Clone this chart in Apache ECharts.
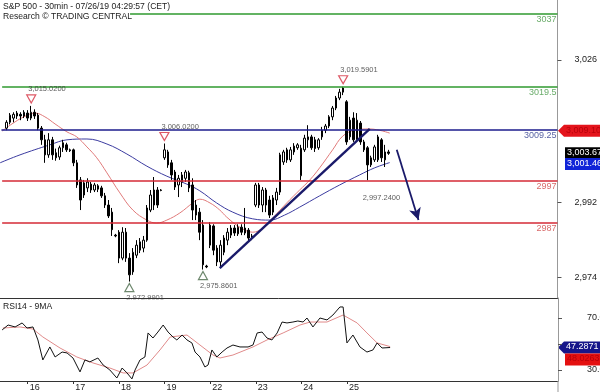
<!DOCTYPE html>
<html><head><meta charset="utf-8">
<script src="https://cdn.jsdelivr.net/npm/echarts@6/dist/echarts.min.js"></script>
<style>html,body{margin:0;padding:0;background:#fff}#c{width:600px;height:392px}</style>
</head><body><div id="c"></div>
<script>
// ---- data ----
const candleOpen  = [3009.7,3011.1,3012.1,3012.6,3013.0,3012.6,3013.3,3012.1,3013.5,3012.8,3009.7,3006.9,3003.3,3006.9,3003.8,3002.8,3005.0,3005.7,3004.5,3004.5,3001.4,2997.3,2993.7,2995.4,2996.3,2994.9,2995.9,2995.4,2993.5,2991.3,2989.6,2984.1,2984.8,2978.6,2984.8,2978.6,2975.3,2979.3,2980.5,2981.0,2982.9,2990.1,2991.3,2994.9,2994.9,3002.6,3004.0,3001.4,2999.2,2996.1,2996.8,2997.7,2999.0,2996.1,2991.3,2989.6,2986.5,2976.7,2981.7,2986.3,2981.0,2977.7,2980.0,2982.9,2984.1,2985.8,2984.4,2986.0,2984.6,2985.3,2983.9,2991.3,2996.1,2991.3,2994.9,2992.5,2989.6,2992.5,2994.4,3001.6,3004.5,3002.1,3004.0,3005.0,2998.3,3004.5,3006.9,3007.6,3006.9,3005.0,3007.6,3009.2,3010.2,3012.4,3014.5,3016.9,3018.3,3016.0,3007.6,3012.1,3006.9,3010.9,3006.4,3005.0,3000.9,3002.1,3002.1,3006.9,3002.1,3004.0];
const candleClose = [3011.1,3012.8,3013.0,3013.3,3012.6,3013.5,3012.1,3013.5,3012.6,3009.7,3006.9,3003.3,3006.9,3003.3,3002.6,3005.0,3006.2,3004.5,3004.3,3001.4,2996.1,2992.5,2996.6,2996.8,2994.9,2996.1,2995.1,2993.5,2991.3,2988.7,2985.4,2983.9,2978.6,2984.8,2978.6,2974.6,2980.0,2981.7,2982.5,2982.9,2990.6,2993.7,2994.9,2991.3,2994.8,3004.5,3000.9,2998.5,2995.6,2997.7,2998.5,2999.2,2995.4,2990.1,2988.9,2984.8,2977.0,2976.5,2986.5,2980.5,2977.7,2981.7,2983.4,2984.8,2985.8,2984.6,2986.0,2984.8,2985.8,2983.4,2983.6,2996.1,2991.3,2994.9,2991.3,2988.9,2993.0,2994.4,3003.3,3004.0,3002.1,3004.5,3005.4,3005.7,3004.9,3007.3,3007.6,3005.0,3004.8,3006.9,3009.2,3010.2,3012.4,3014.5,3016.9,3018.3,3019.3,3006.4,3011.6,3006.9,3011.6,3006.4,3004.5,3000.9,3002.6,3005.2,3007.6,3002.6,3004.0,3003.67];
const candleLow   = [3009.2,3010.6,3011.1,3011.9,3011.6,3012.1,3011.4,3011.6,3011.9,3009.2,3005.7,3001.4,3002.6,3002.1,3001.9,3002.1,3004.0,3004.0,3004.0,3000.6,2995.4,2990.1,2993.0,2994.4,2994.2,2994.4,2994.4,2993.0,2990.6,2988.2,2983.9,2983.6,2977.4,2978.1,2977.7,2972.9901,2974.6,2978.6,2979.8,2980.0,2982.5,2989.6,2990.1,2990.6,2994.6,3002.1,3000.2,2997.3,2994.9,2993.2,2995.6,2996.8,2994.4,2987.7,2987.7,2982.9,2975.8601,2976.2,2981.0,2979.3,2976.7,2976.2,2979.3,2981.7,2983.4,2983.9,2983.9,2984.1,2984.1,2982.5,2982.9,2990.8,2990.6,2989.6,2989.6,2988.2,2988.9,2991.3,2993.7,3000.9,3001.4,3001.6,3003.3,3004.5,2997.3,3004.0,3005.0,3004.5,3004.0,3004.5,3006.9,3008.5,3009.7,3011.6,3014.0,3016.4,3017.6,3005.7,3006.9,3006.4,3006.4,3005.7,3004.0,2997.24,3000.4,3001.6,3001.6,3001.6,3000.4,3003.3];
const candleHigh  = [3011.6,3013.3,3013.5,3013.8,3013.5,3014.0,3014.0,3015.02,3014.2,3013.3,3010.2,3008.1,3008.5,3007.6,3004.8,3005.5,3006.9,3006.2,3004.8,3004.8,3002.1,2998.0,2997.3,2997.7,2996.8,2996.6,2996.3,2995.9,2994.2,2992.5,2990.6,2984.4,2985.3,2986.0,2985.8,2979.8,2981.0,2982.9,2983.4,2983.9,2991.3,2994.9,2998.0,2995.6,2995.1,3006.02,3004.5,3002.1,2999.7,2998.5,2999.2,2999.7,2999.5,2997.7,2992.5,2990.6,2987.7,2977.0,2987.2,2986.7,2981.7,2982.9,2984.1,2985.8,2986.5,2986.5,2986.7,2986.7,2990.6,2985.8,2984.4,2996.6,2996.6,2995.6,2995.4,2993.5,2993.7,2995.4,3003.8,3004.5,3005.0,3005.2,3006.1,3006.1,3005.7,3008.1,3010.4,3008.1,3007.6,3007.3,3010.0,3010.7,3012.8,3015.0,3017.4,3019.1,3019.5901,3016.4,3012.4,3013.5,3013.3,3011.4,3006.9,3005.4,3003.1,3005.7,3008.1,3007.3,3005.7,3004.5];

const dayLabels = ['16','17','18','19','22','23','24','25'];
const dayStart  = [6,19,32,45,58,71,84,97];
const priceTicks = [3026,2992,2974];
const rsiTicks = [70,50,30];
const rsiTickLabels = ['70.00','30.00'];
const rsiTickLabelValues = [70,30];

const maFast = [[-1.3,3009.0],[1.5,3010.7],[4.9,3012.4],[8.1,3013.3],[10.9,3012.4],[13.8,3010.7],[17.2,3008.8],[20.0,3007.6],[22.9,3005.2],[25.7,3002.6],[28.6,2999.0],[32.3,2994.2],[36.0,2990.1],[40.0,2987.7],[42.8,2987.0],[45.7,2987.7],[49.4,2989.4],[53.1,2991.8],[55.1,2992.7],[58.0,2991.8],[60.8,2990.1],[62.8,2988.4],[66.5,2986.0],[70.2,2984.8],[73.1,2985.8],[75.9,2988.2],[79.9,2991.8],[83.6,2994.9],[86.5,2997.3],[89.3,3000.2],[93.0,3004.5],[95.9,3007.8],[99.3,3009.2],[103.6,3009.5],[109.3,3008.5]];
const maSlow = [[-1.9,3001.4],[3.8,3003.3],[12.3,3005.7],[17.2,3006.9],[22.9,3007.1],[28.6,3005.9],[34.3,3003.5],[40.0,3000.6],[45.7,2998.2],[51.4,2996.3],[55.1,2994.7],[59.9,2991.8],[64.5,2989.6],[70.2,2988.0],[75.1,2987.7],[79.3,2988.9],[83.6,2990.8],[89.3,2993.5],[95.0,2996.1],[100.7,2998.5],[105.0,3000.2],[109.3,3001.46]];

const rsi = [[-1.3,60.8],[0.4,64.6],[2.4,63.1],[4.4,66.2],[5.8,62.3],[7.5,63.1],[8.9,53.1],[10.3,37.7],[12.3,47.7],[13.8,40.0],[15.8,43.8],[17.2,43.1],[18.9,39.2],[20.9,28.5],[22.3,37.7],[23.7,36.2],[26.0,39.2],[27.5,33.8],[29.4,30.0],[31.4,23.8],[32.9,31.5],[34.3,27.7],[35.7,23.1],[36.6,30.0],[38.0,37.7],[39.4,40.0],[40.3,58.5],[41.7,54.6],[43.1,59.2],[44.6,64.6],[46.0,59.2],[47.4,55.4],[48.5,53.1],[50.0,56.9],[51.4,53.1],[52.8,50.8],[53.7,43.8],[55.1,40.0],[56.5,32.3],[57.4,33.8],[58.5,45.4],[59.9,40.0],[61.4,43.8],[62.8,46.9],[64.5,49.2],[66.5,47.7],[68.8,47.7],[70.2,49.2],[71.4,58.5],[72.8,59.2],[74.2,54.6],[75.6,53.1],[77.1,58.5],[78.5,66.9],[79.9,66.2],[81.6,66.9],[83.0,67.7],[84.5,66.9],[85.6,70.0],[87.3,63.1],[89.3,70.0],[91.3,68.5],[93.0,72.3],[95.0,78.5],[95.9,78.5],[97.0,50.8],[98.7,56.9],[100.7,47.7],[102.7,43.8],[104.4,45.4],[105.6,50.8],[107.0,46.9],[109.3,47.2871]];
const rsiMa = [[-1.1,62.3],[3.8,63.1],[7.5,61.5],[10.3,55.4],[15.2,46.9],[20.0,40.0],[24.6,35.4],[29.4,31.5],[33.2,27.7],[36.0,27.7],[40.0,33.8],[43.7,45.4],[46.6,55.4],[51.4,56.9],[55.1,49.2],[58.8,41.5],[60.8,39.2],[64.5,41.5],[70.2,47.7],[74.2,53.1],[78.8,58.5],[83.6,64.6],[86.5,66.9],[91.3,66.9],[95.9,72.3],[99.9,66.2],[102.7,58.5],[105.6,50.8],[109.3,48.0]];

const levelValues = [3037,3019.5,3009.25,2997,2987];
const levelText   = ['3037','3019.5','3009.25','2997','2987'];
const levelStart  = [35.2,-1.3,-1.5,-1.3,-1.3];
const highIdx = [7,45,96];
const lowIdx  = [35,56];
const noteIdx = [103];
const trendLine = [[60.8,2976.2],[103.6,3009.5]];
const arrowLine = [[111.3,3004.5],[117.5,2987.7]];
const lastClose = 3003.67, maSlowLast = 3001.46, maFastLast = 3009.10;
const rsiLast = 47.2871, rsiMaLast = '48.0263';

// ---- chart ----
const X_MIN = -1.91, X_MAX = 157.16;
const FONT = 'Liberation Sans';
const fmt4 = v => v.toLocaleString('en-US',{minimumFractionDigits:4,maximumFractionDigits:4});
const levelColors = ['#2f9a2f','#2f9a2f','#1c1c8c','#d42a36','#d42a36'];
const levelLabelColors = ['#6aac6a','#6aac6a','#5a64a4','#d86a6a','#d86a6a'];

const chart = echarts.init(document.getElementById('c'), null, {renderer:'canvas'});

const candles = candleOpen.map((o,i)=>[i,o,candleClose[i],candleLow[i],candleHigh[i]]);

const markLines = levelValues.map((v,k)=>[
  {coord:[levelStart[k],v], lineStyle:{color:levelColors[k],width:1.6,type:'solid'},
   label:{show:true,position:'insideEndBottom',formatter:levelText[k],color:levelLabelColors[k],fontSize:9,fontFamily:FONT,distance:[1,1]}},
  {coord:[X_MAX,v]}
]);
markLines.push([{coord:trendLine[0],lineStyle:{color:'#1a1a6a',width:2.4,type:'solid'},label:{show:false}},{coord:trendLine[1]}]);
markLines.push([{coord:arrowLine[0],symbol:'none',lineStyle:{color:'#1a1a6a',width:1.8,type:'solid'},label:{show:false}},{coord:arrowLine[1],symbol:'arrow',symbolSize:[9,12]}]);

const option = {
  animation:false,
  textStyle:{fontFamily:FONT},
  grid:[
    {left:0,top:0,width:558,height:298},
    {left:0,top:298,width:558,height:83}
  ],
  xAxis:[
    {type:'value',gridIndex:0,min:X_MIN,max:X_MAX,axisLine:{show:true,onZero:false,lineStyle:{color:'#333',width:1}},axisTick:{show:false},axisLabel:{show:false},splitLine:{show:false}},
    {type:'value',gridIndex:1,min:X_MIN,max:X_MAX,axisLine:{show:true,onZero:false,lineStyle:{color:'#333',width:1}},
     axisTick:{show:true,customValues:dayStart,length:3,lineStyle:{color:'#333'}},
     axisLabel:{show:true,customValues:dayStart,formatter:v=>dayLabels[dayStart.indexOf(v)],align:'left',margin:2,fontSize:9,color:'#222',padding:[0,0,0,2]},
     splitLine:{show:false}}
  ],
  yAxis:[
    {type:'value',gridIndex:0,position:'right',min:2969.06,max:3040.35,
     axisLine:{show:true,onZero:false,lineStyle:{color:'#999'}},
     axisTick:{show:true,customValues:priceTicks,length:4,lineStyle:{color:'#555'}},
     axisLabel:{show:true,customValues:priceTicks,formatter:v=>v.toLocaleString('en-US'),margin:17,align:'left',fontSize:9,color:'#222'},
     splitLine:{show:false}},
    {type:'value',gridIndex:1,position:'right',min:21.5,max:85.4,
     axisLine:{show:true,onZero:false,lineStyle:{color:'#999'}},
     axisTick:{show:true,customValues:rsiTicks,length:4,lineStyle:{color:'#555'}},
     axisLabel:{show:false},
     splitLine:{show:false}}
  ],
  series:[
    {type:'line',xAxisIndex:0,yAxisIndex:0,data:maSlow,showSymbol:false,smooth:0.4,lineStyle:{color:'#3c3ca0',width:1},z:2},
    {type:'line',xAxisIndex:0,yAxisIndex:0,data:maFast,showSymbol:false,smooth:0.4,lineStyle:{color:'#e07a7a',width:1},z:2},
    {type:'candlestick',xAxisIndex:0,yAxisIndex:0,data:candles,encode:{x:0,y:[1,2,3,4]},barWidth:2,
     itemStyle:{color:'#fff',color0:'#000',borderColor:'#000',borderColor0:'#000',borderWidth:1},z:3,
     markLine:{silent:true,symbol:'none',animation:false,data:markLines}},
    {type:'scatter',xAxisIndex:0,yAxisIndex:0,data:highIdx.map(i=>[i,candleHigh[i]]),symbol:'triangle',symbolRotate:180,symbolSize:[9,8],symbolOffset:[0,-7],
     itemStyle:{color:'#fff',borderColor:'#d43040',borderWidth:1.2},z:4},
    {type:'scatter',xAxisIndex:0,yAxisIndex:0,data:lowIdx.map(i=>[i,candleLow[i]]),symbol:'triangle',symbolSize:[9,8],symbolOffset:[0,6],
     itemStyle:{color:'#fff',borderColor:'#4a6a4a',borderWidth:1.2},z:4},
    {type:'scatter',xAxisIndex:0,yAxisIndex:0,symbolSize:0,z:5,
     label:{show:true,position:'right',distance:0,formatter:p=>fmt4(p.value[1]),fontSize:7.5,color:'#333'},
     data:[].concat(
       highIdx.map(i=>({value:[i,candleHigh[i]],label:{offset:[-3,-17]}})),
       lowIdx.map(i=>({value:[i,candleLow[i]],label:{offset:[-3,16]}})),
       noteIdx.map(i=>({value:[i,candleLow[i]],label:{offset:[-5,18]}}))
     )},
    {type:'line',xAxisIndex:1,yAxisIndex:1,data:rsiMa,showSymbol:false,lineStyle:{color:'#e08a8a',width:1},z:2},
    {type:'line',xAxisIndex:1,yAxisIndex:1,data:rsi,showSymbol:false,lineStyle:{color:'#111',width:1},z:3}
  ]
};
chart.setOption(option);

// ---- annotations placed through the axes ----
const py = v => chart.convertToPixel({yAxisIndex:0}, v);
const ry = v => chart.convertToPixel({yAxisIndex:1}, v);
const ax = 558;
function arrowBox(y, fill, text, txtColor){
  return {type:'group',z:50,children:[
    {type:'polygon',shape:{points:[[ax,y],[ax+6,y-6],[600,y-6],[600,y+6],[ax+6,y+6]]},style:{fill:fill}},
    {type:'text',x:ax+8,y:y-5,style:{text:text,font:'9px '+FONT,fill:txtColor}}
  ]};
}
function box(y, fill, text, txtColor){
  return {type:'group',z:50,children:[
    {type:'rect',shape:{x:ax+7,y:y-6,width:40,height:12},style:{fill:fill}},
    {type:'text',x:ax+9,y:y-5,style:{text:text,font:'9px '+FONT,fill:txtColor}}
  ]};
}
const rsiLabelTexts = rsiTickLabelValues.map((v,k)=>({type:'text',z:45,x:ax+29,y:ry(v)-5,style:{text:rsiTickLabels[k],font:'9px '+FONT,fill:'#222'}}));
chart.setOption({graphic:[
  {type:'text',left:3,top:2,z:50,style:{text:'S&P 500 - 30min - 07/26/19 04:29:57 (CET)',font:'8.6px '+FONT,fill:'#222'}},
  {type:'text',left:3,top:12,z:50,style:{text:'Research \u00a9 TRADING CENTRAL',font:'8.6px '+FONT,fill:'#222'}},
  {type:'text',left:3,top:302,z:50,style:{text:'RSI14 - 9MA',font:'8.6px '+FONT,fill:'#222'}},
  {type:'rect',z:40,shape:{x:110,y:299.5,width:90,height:8},style:{fill:'#fff'}},
  {type:'line',z:40,shape:{x1:ax,y1:381,x2:ax,y2:392},style:{stroke:'#999'}},
  ...rsiLabelTexts,
  arrowBox(py(maFastLast), '#e4141c', '3,009.10', '#b8000a'),
  box(py(lastClose), '#000', '3,003.67', '#fff'),
  box(py(maSlowLast)+1.5, '#1024d8', '3,001.46', '#fff'),
  arrowBox(ry(rsiLast), '#16168a', '47.2871', '#fff'),
  box(ry(rsiLast)+12, '#e41010', rsiMaLast, '#b8000a')
]});
</script>
</body></html>
